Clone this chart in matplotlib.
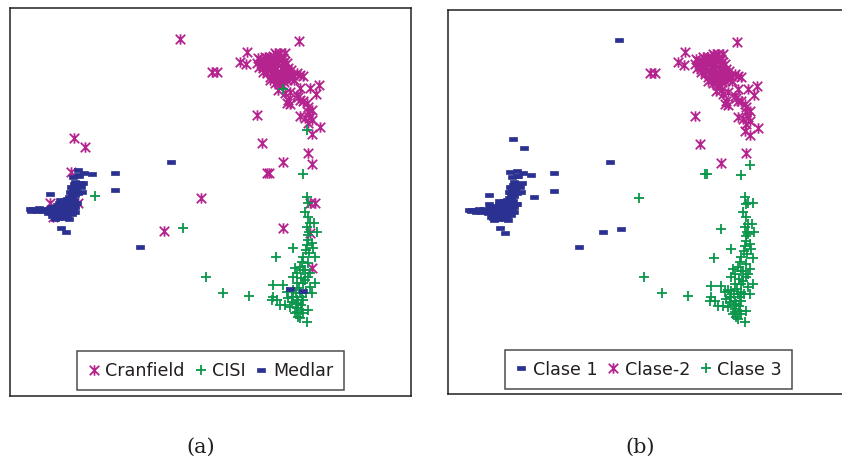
"""
Two scatter panels of a 2-D document projection: (a) true collection,
(b) class assigned by clustering. Saves out.png.
"""

import numpy as np
import matplotlib

matplotlib.use("Agg")
import matplotlib.pyplot as plt  # noqa: E402
from matplotlib.path import Path  # noqa: E402

# Projected coordinates (arbitrary units, y grows downward), grouped by
# true collection and the class the clustering assigned.
cran_k2 = [(868, 93), (710, 125), (690, 155), (708, 163), (605, 187), (620, 187),
           (740, 315), (755, 400), (820, 457), (895, 428), (930, 352), (905, 372),
           (870, 318), (900, 320), (928, 225), (918, 253), (900, 235), (870, 195),
           (880, 198), (840, 245), (830, 280), (840, 282), (865, 262), (880, 272),
           (895, 290), (905, 300), (870, 235), (825, 250), (835, 270), (862, 255),
           (870, 270), (890, 280), (895, 305), (905, 330), (895, 340), (885, 325),
           (750, 150), (760, 160), (770, 145), (780, 140), (790, 155), (800, 135),
           (810, 130), (820, 145), (830, 160), (760, 175), (775, 180), (790, 170),
           (800, 185), (815, 175), (825, 195), (835, 190), (845, 205), (780, 200),
           (795, 205), (810, 210), (740, 160), (755, 165), (770, 165), (785, 160),
           (800, 160), (815, 160), (820, 180), (805, 195), (830, 210), (815, 225),
           (805, 240), (825, 130), (795, 130), (780, 210), (850, 195), (860, 190),
           (745, 145), (765, 150), (775, 155), (785, 148), (795, 145), (805, 150),
           (812, 140), (822, 155), (835, 175), (828, 185), (812, 190), (798, 178),
           (785, 188), (770, 190), (758, 185), (748, 172), (790, 195), (800, 205),
           (818, 200), (840, 198), (808, 222), (795, 218), (822, 215), (775, 170),
           (765, 140), (788, 138), (842, 180), (852, 210)]
cran_k1 = [(510, 88), (192, 385), (226, 412), (462, 663), (183, 485), (205, 580),
           (120, 580), (130, 622)]
cran_k3 = [(573, 563), (820, 655), (770, 490), (778, 490), (905, 462), (900, 578),
           (915, 578), (905, 775), (900, 669)]

cisi_k1 = [(255, 558), (518, 655)]
cisi_k2 = [(818, 238), (890, 360)]
cisi_k3 = [(588, 800), (640, 848), (718, 857), (880, 493), (890, 560), (893, 580),
           (885, 605), (900, 640), (912, 640), (920, 665), (898, 665), (895, 690),
           (905, 700), (910, 715), (848, 715), (798, 742), (880, 740), (915, 742),
           (893, 760), (870, 770), (855, 775), (885, 780), (850, 800), (895, 800),
           (915, 820), (790, 825), (820, 825), (860, 820), (880, 820), (900, 830),
           (830, 845), (850, 840), (870, 850), (905, 850), (790, 860), (800, 870),
           (785, 870), (810, 885), (825, 885), (845, 875), (865, 880), (880, 870),
           (860, 895), (875, 900), (895, 900), (855, 910), (865, 920), (890, 935),
           (870, 925), (880, 780), (888, 720), (890, 705), (875, 860), (845, 860),
           (900, 790), (895, 620), (890, 650), (893, 675), (898, 730), (875, 755),
           (862, 790), (872, 805), (885, 810), (868, 835), (858, 850), (888, 850),
           (850, 860), (862, 870), (872, 885), (858, 882), (840, 890), (862, 905),
           (880, 910), (835, 865)]

medl_k1 = [(483, 455), (316, 488), (316, 540), (390, 710), (246, 493), (222, 488),
           (205, 480), (208, 497), (120, 553), (177, 628), (153, 653), (167, 667),
           (60, 598), (68, 598), (76, 599), (84, 600), (92, 600), (100, 601),
           (108, 601), (116, 598), (124, 596), (132, 590), (140, 585), (148, 580),
           (156, 575), (164, 570), (172, 568), (180, 575), (188, 585), (196, 590),
           (190, 600), (180, 605), (170, 608), (160, 610), (150, 612), (140, 615),
           (130, 612), (120, 605), (140, 600), (150, 595), (160, 590), (170, 590),
           (180, 592), (145, 625), (155, 620), (165, 625), (135, 628), (150, 570),
           (175, 580), (185, 560), (195, 555), (205, 548), (215, 545), (180, 545),
           (190, 535), (200, 528), (210, 520), (218, 518), (195, 515), (190, 500),
           (205, 495), (130, 600), (115, 608), (125, 618), (64, 602), (80, 603),
           (96, 604), (112, 604), (128, 606), (144, 606), (156, 602), (168, 598),
           (184, 598), (138, 594), (152, 586), (166, 582), (176, 586), (148, 604),
           (136, 620), (160, 618), (172, 615), (186, 612), (196, 605), (200, 580),
           (192, 570), (178, 562), (160, 582), (142, 592), (122, 590), (104, 596),
           (88, 595), (186, 548), (198, 540), (192, 522), (212, 530), (182, 530)]
medl_k3 = [(840, 837), (880, 843)]

labels_a = ["Cranfield", "CISI", "Medlar"]
labels_b = ["Clase 1", "Clase-2", "Clase 3"]

MAGENTA = "#B4238E"
GREEN = "#0A964B"
NAVY = "#2B3190"
FRAME = "#231F20"

ASTERISK = Path([(-1, -1), (1, 1), (-1, 1), (1, -1), (0, -1.1), (0, 1.1)],
                [Path.MOVETO, Path.LINETO] * 3)
DASH = Path([(-1, -0.45), (1, -0.45), (1, 0.45), (-1, 0.45), (-1, -0.45)],
            [Path.MOVETO, Path.LINETO, Path.LINETO, Path.LINETO, Path.CLOSEPOLY])

STYLES = {
    "x": dict(marker=ASTERISK, ms=7.5, mec=MAGENTA, mfc="none", mew=1.3),
    "+": dict(marker="+", ms=7, mec=GREEN, mew=1.3),
    "-": dict(marker=DASH, ms=5.5, mec=NAVY, mfc=NAVY, mew=0.5),
}


def scatter(ax, groups, style, label):
    pts = np.array([p for g in groups for p in g], dtype=float)
    (h,) = ax.plot(pts[:, 0], pts[:, 1], linestyle="none", label=label, **STYLES[style])
    return h


def frame(ax, xlim, ylim, hide_right=False):
    ax.set_xlim(*xlim)
    ax.set_ylim(*ylim)
    ax.set_xticks([])
    ax.set_yticks([])
    for sp in ax.spines.values():
        sp.set_color(FRAME)
        sp.set_linewidth(1.1)
    if hide_right:
        ax.spines["right"].set_visible(False)


def legend(ax, handles, anchor_x, anchor_y):
    leg = ax.legend(handles=handles, loc="lower center", bbox_to_anchor=(anchor_x, anchor_y),
                    ncol=3, fontsize=12.6, frameon=True, fancybox=False, borderpad=0.6,
                    handlelength=0.7, handletextpad=0.3, columnspacing=0.55,
                    borderaxespad=0.0)
    leg.get_frame().set_edgecolor(FRAME)
    leg.get_frame().set_linewidth(1.1)
    for t in leg.get_texts():
        t.set_color(FRAME)


W, H = 842, 461
fig = plt.figure(figsize=(W / 100, H / 100), dpi=100)

# (a) true collections
ax_a = fig.add_axes([10 / W, (H - 396) / H, 401 / W, 388 / H])
ha = [
    scatter(ax_a, [cran_k2, cran_k1, cran_k3], "x", labels_a[0]),
    scatter(ax_a, [cisi_k1, cisi_k2, cisi_k3], "+", labels_a[1]),
    scatter(ax_a, [medl_k1, medl_k3], "-", labels_a[2]),
]
frame(ax_a, (0, 1203), (1158, -6))
legend(ax_a, ha, 0.5, 0.015)

# (b) clustering result
ax_b = fig.add_axes([448 / W, (H - 394) / H, 397 / W, 384 / H])
hb = [
    scatter(ax_b, [medl_k1, cran_k1, cisi_k1], "-", labels_b[0]),
    scatter(ax_b, [cran_k2, cisi_k2], "x", labels_b[1]),
    scatter(ax_b, [cisi_k3, cran_k3, medl_k3], "+", labels_b[2]),
]
frame(ax_b, (-4.5, 1193), (1150, -2), hide_right=True)
legend(ax_b, hb, 0.505, 0.013)

fig.text(201 / W, 1 - 447 / H, "(a)", ha="center", va="center", fontsize=15,
         family="DejaVu Serif", color=FRAME)
fig.text(640 / W, 1 - 447 / H, "(b)", ha="center", va="center", fontsize=15,
         family="DejaVu Serif", color=FRAME)

fig.savefig("out.png", dpi=100)
